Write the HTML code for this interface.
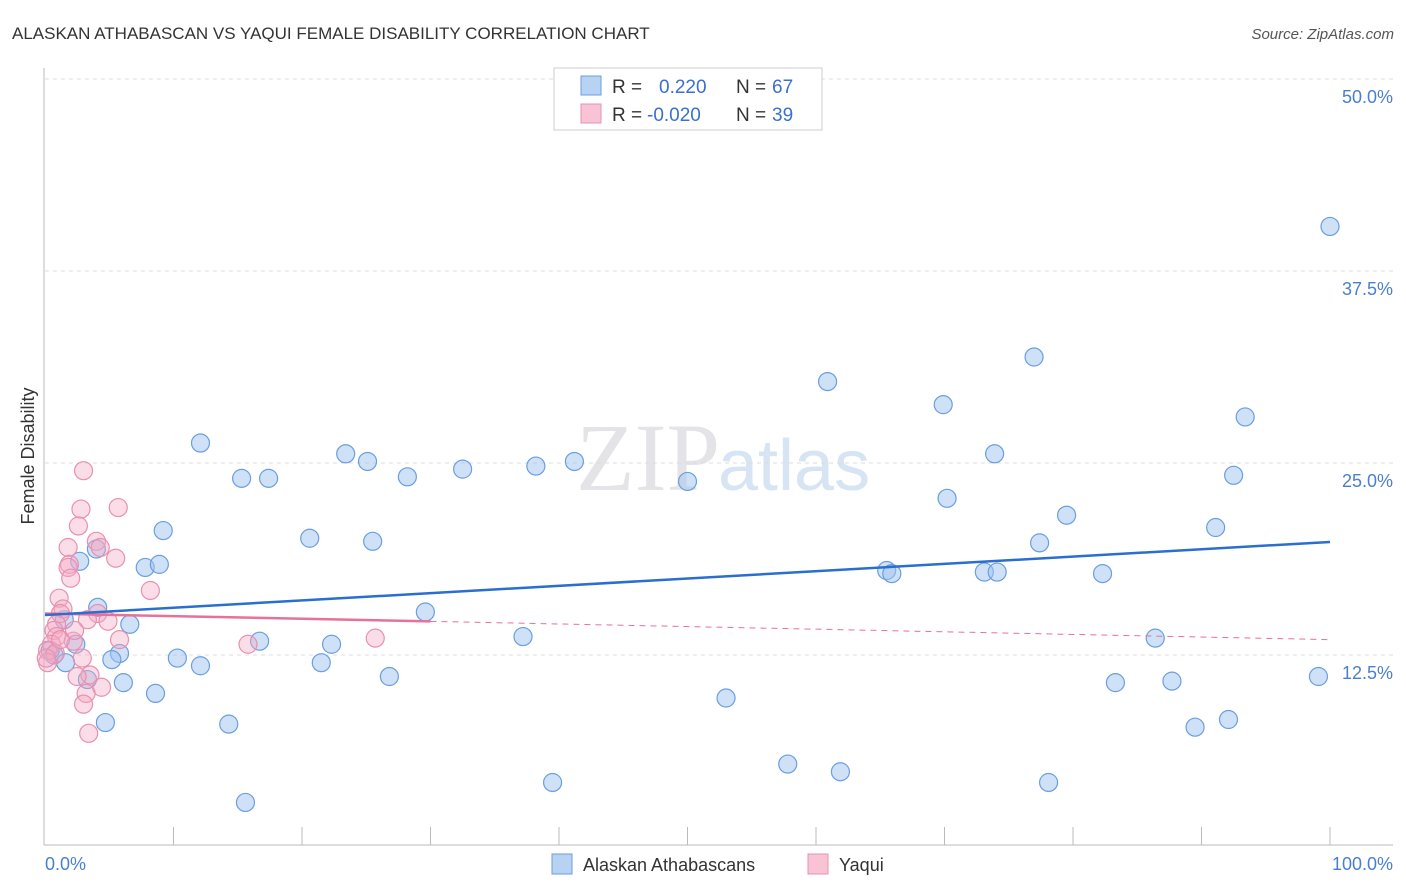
<!DOCTYPE html>
<html><head><meta charset="utf-8"><style>
body{margin:0;background:#fff;font-family:"Liberation Sans",sans-serif}
</style></head><body>
<svg width="1406" height="892" style="display:block">
<text x="12" y="39" font-size="17" fill="#333">ALASKAN ATHABASCAN VS YAQUI FEMALE DISABILITY CORRELATION CHART</text>
<text x="1394" y="39" font-size="15" fill="#555" font-style="italic" text-anchor="end">Source: ZipAtlas.com</text>
<text x="720" y="490" font-size="96" fill="#e4e4e8" text-anchor="end" font-family="Liberation Serif">ZIP</text>
<text x="718" y="490" font-size="72" fill="#d6e4f4">atlas</text>
<g id="grid"></g>
<g id="axes"></g>
<g id="marks"></g>
<text transform="translate(34,456) rotate(-90)" font-size="18" fill="#333" text-anchor="middle">Female Disability</text>
<text x="45" y="870" font-size="18" fill="#4a7fd0">0.0%</text>
<text x="1393" y="870" font-size="18" fill="#4a7fd0" text-anchor="end">100.0%</text>
<g>
<rect x="554" y="68" width="268" height="62" fill="#fff" stroke="#ccc"/>
<rect x="581" y="76" width="20" height="19" fill="#b8d2f4" stroke="#6a9ee0"/>
<rect x="581" y="104" width="20" height="19" fill="#f8c4d4" stroke="#e890b0"/>
<text x="612" y="93" font-size="19" fill="#333">R = </text><text x="659" y="93" font-size="19" fill="#3a6fd0">0.220</text>
<text x="736" y="93" font-size="19" fill="#333">N = </text><text x="772" y="93" font-size="19" fill="#3a6fd0">67</text>
<text x="612" y="121" font-size="19" fill="#333">R = </text><text x="647" y="121" font-size="19" fill="#3a6fd0">-0.020</text>
<text x="736" y="121" font-size="19" fill="#333">N = </text><text x="772" y="121" font-size="19" fill="#3a6fd0">39</text>
</g>
<g>
<rect x="552" y="854" width="20" height="20" fill="#b8d2f4" stroke="#6a9ee0"/>
<text x="583" y="871" font-size="18" fill="#333">Alaskan Athabascans</text>
<rect x="808" y="854" width="20" height="20" fill="#f8c4d4" stroke="#e890b0"/>
<text x="839" y="871" font-size="18" fill="#333">Yaqui</text>
</g>
</svg>
<script>
const yTicks=[12.5,25,37.5,50];
const yTickLabels=["12.5%","25.0%","37.5%","50.0%"];
const xTicks=[10,20,30,40,50,60,70,80,90,100];
const blueX=[100,76.97,60.9,69.9,93.4,12.1,73.9,23.4,25.1,41.2,32.5,38.2,15.3,17.4,28.2,50.0,92.5,70.2,79.5,9.2,91.1,20.6,25.5,77.4,4.0,2.7,7.8,8.9,65.5,65.9,73.1,74.1,82.3,4.1,29.6,6.6,1.5,37.2,86.4,16.7,22.3,2.4,0.7,5.8,5.2,10.3,1.6,12.1,21.5,26.8,3.3,6.1,83.3,87.7,99.1,8.6,53.0,4.7,14.3,92.1,89.5,57.8,61.9,39.5,78.1,15.6,0.4];
const blueY=[40.4,31.9,30.3,28.8,28.0,26.3,25.6,25.6,25.1,25.1,24.6,24.8,24.0,24.0,24.1,23.8,24.2,22.7,21.6,20.6,20.8,20.1,19.9,19.8,19.4,18.6,18.2,18.4,18.0,17.8,17.9,17.9,17.8,15.6,15.3,14.5,14.8,13.7,13.6,13.4,13.2,13.2,12.5,12.6,12.2,12.3,12.0,11.8,12.0,11.1,10.9,10.7,10.7,10.8,11.1,10.0,9.7,8.1,8.0,8.3,7.8,5.4,4.9,4.2,4.2,2.9,12.8];
const pinkX=[3.0,2.8,5.7,2.6,1.8,4.0,4.3,1.9,1.8,5.5,2.0,8.2,1.1,1.4,1.2,4.1,3.3,4.9,0.9,0.7,0.9,2.2,5.8,15.8,25.7,0.5,0.2,0.8,2.9,0.2,3.5,2.5,4.4,3.2,3.0,3.4,1.2,2.3,0.1];
const pinkY=[24.5,22.0,22.1,20.9,19.5,19.9,19.5,18.4,18.2,18.8,17.5,16.7,16.2,15.5,15.2,15.2,14.8,14.7,14.5,14.1,13.7,13.4,13.5,13.2,13.6,13.2,12.8,12.6,12.3,12.0,11.2,11.1,10.4,10.0,9.3,7.4,13.5,14.1,12.3];
const blueTrend=[15.1,19.86];
const pinkTrend=[15.2,13.5];
const pinkSolidEnd=30;
const NS="http://www.w3.org/2000/svg";
const xs=v=>45+v*12.85, ys=v=>847-v*15.36;
function mk(t,a,p){const e=document.createElementNS(NS,t);for(const k in a)e.setAttribute(k,a[k]);document.getElementById(p).appendChild(e);return e;}
yTicks.forEach((t,i)=>{
 const l=mk('line',{x1:45,x2:1393,y1:ys(t),y2:ys(t),stroke:'#ddd','stroke-dasharray':'4,4'},'grid');
 
 
 const tx=mk('text',{x:1393,y:ys(t)+24,'font-size':18,fill:'#4a7fd0','text-anchor':'end'},'grid');
 tx.textContent=yTickLabels[i];
 
 
});
let a=mk('line',{x1:44,x2:44,y1:68,y2:845,stroke:'#bbb'},'axes');


a=mk('line',{x1:44,x2:1393,y1:845,y2:845,stroke:'#bbb'},'axes');


xTicks.forEach(t=>{const l=mk('line',{x1:xs(t),x2:xs(t),y1:827,y2:845,stroke:'#bbb'},'axes');
 
 });
blueX.forEach((x,i)=>{const c=mk('circle',{cx:xs(x),cy:ys(blueY[i]),r:9,fill:'rgba(160,195,240,0.5)',stroke:'#6a9ee0','stroke-width':1.2},'marks');
 
 });
pinkX.forEach((x,i)=>{const c=mk('circle',{cx:xs(x),cy:ys(pinkY[i]),r:9,fill:'rgba(245,170,195,0.4)',stroke:'#e890b0','stroke-width':1.2},'marks');
 
 });
const pAt=x=>pinkTrend[0]+(pinkTrend[1]-pinkTrend[0])*x/100;
let t=mk('line',{x1:xs(pinkSolidEnd),y1:ys(pAt(pinkSolidEnd)),x2:xs(100),y2:ys(pinkTrend[1]),stroke:'#e8709a','stroke-width':1,'stroke-dasharray':'6,5'},'marks');


t=mk('line',{x1:xs(0),y1:ys(pinkTrend[0]),x2:xs(pinkSolidEnd),y2:ys(pAt(pinkSolidEnd)),stroke:'#e8709a','stroke-width':2.5},'marks');


t=mk('line',{x1:xs(0),y1:ys(blueTrend[0]),x2:xs(100),y2:ys(blueTrend[1]),stroke:'#2a6fd0','stroke-width':2.5},'marks');


</script>
</body></html>
